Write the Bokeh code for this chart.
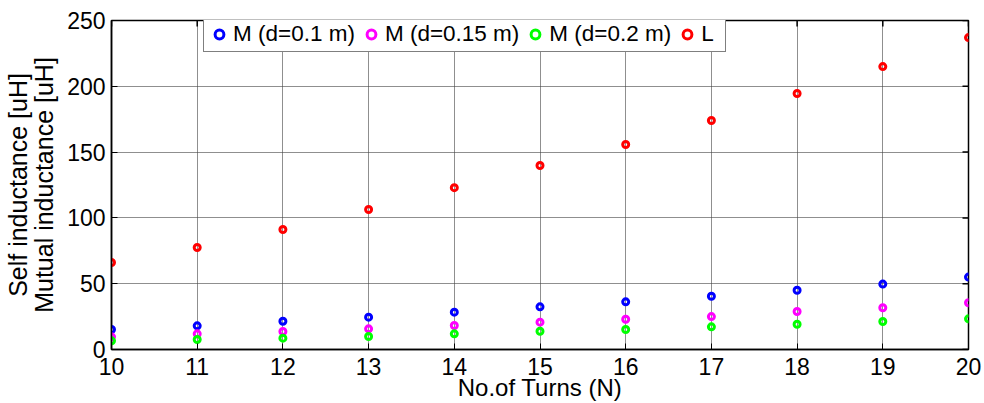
import math
from bokeh.plotting import figure
from bokeh.models import FixedTicker, Range1d, Legend, LegendItem
from bokeh.embed import file_html
from bokeh.resources import INLINE

# Number of turns
turns = [10, 11, 12, 13, 14, 15, 16, 17, 18, 19, 20]
# Mutual inductance [uH] for three coil separations
m_d010 = [15.2, 18.0, 21.5, 24.6, 28.4, 32.4, 36.2, 40.5, 45.0, 49.7, 55.0]
m_d015 = [9.6, 11.9, 13.7, 15.7, 18.2, 20.8, 23.0, 25.0, 28.9, 31.7, 35.5]
m_d020 = [6.6, 7.6, 8.6, 9.9, 11.9, 13.9, 15.2, 17.2, 19.2, 21.3, 23.3]
# Self inductance [uH]
self_l = [66.1, 77.5, 91.2, 106.4, 123.0, 139.8, 155.8, 174.0, 194.5, 215.0, 237.0]

x_ticks = [10, 11, 12, 13, 14, 15, 16, 17, 18, 19, 20]
y_ticks = [0, 50, 100, 150, 200, 250]

FONT = "Liberation Sans"
X_MIN, X_MAX, Y_MIN, Y_MAX = 10, 20, 0, 250

p = figure(width=984, height=403, output_backend="svg", toolbar_location=None,
           x_range=Range1d(X_MIN, X_MAX), y_range=Range1d(Y_MIN, Y_MAX),
           min_border_left=110, min_border_right=16,
           min_border_top=20, min_border_bottom=54,
           x_axis_label="No.of Turns (N)",
           y_axis_label="Self inductance [uH]\nMutual inductance [uH]")
p.background_fill_color = "white"
p.border_fill_color = "white"
p.outline_line_color = "black"
p.outline_line_width = 1.5

for ax, ticks in ((p.xaxis[0], x_ticks), (p.yaxis[0], y_ticks)):
    ax.ticker = FixedTicker(ticks=ticks)
    ax.major_tick_in = 6
    ax.major_tick_out = 0
    ax.minor_tick_in = 0
    ax.minor_tick_out = 0
    ax.axis_line_color = "black"
    ax.axis_line_width = 1.5
    ax.major_tick_line_color = "black"
    ax.major_label_text_font = FONT
    ax.major_label_text_font_size = "23px"
    ax.major_label_text_color = "black"
    ax.axis_label_text_font = FONT
    ax.axis_label_text_font_style = "normal"
    ax.axis_label_text_color = "black"

p.xaxis.major_label_standoff = 8
p.xaxis.axis_label_text_font_size = "24px"
p.xaxis.axis_label_text_line_height = 0.8
p.xaxis.axis_label_standoff = -4
p.yaxis.major_label_standoff = 6
p.yaxis.axis_label_text_font_size = "25px"
p.yaxis.axis_label_text_line_height = 0.95
p.yaxis.axis_label_standoff = 6

p.xgrid.ticker = FixedTicker(ticks=x_ticks)
p.ygrid.ticker = FixedTicker(ticks=y_ticks)
p.grid.grid_line_color = "#444444"
p.grid.grid_line_alpha = 0.6
p.grid.grid_line_width = 1

# Inward ticks along the top and right edges of the box
p.ray(x=x_ticks, y=[Y_MAX] * len(x_ticks), length=6, length_units="screen",
      angle=-math.pi / 2, line_color="black", line_width=1.5)
p.ray(x=[X_MAX] * len(y_ticks), y=y_ticks, length=6, length_units="screen",
      angle=math.pi, line_color="black", line_width=1.5)

series = [
    ("M (d=0.1 m)", m_d010, "#0000ff"),
    ("M (d=0.15 m)", m_d015, "#ff00ff"),
    ("M (d=0.2 m)", m_d020, "#00ff00"),
    ("L", self_l, "#ff0000"),
]

items = []
for label, vals, color in series:
    r = p.scatter(turns, vals, marker="circle", size=6, line_color=color,
                  line_width=3, fill_color=None)
    items.append(LegendItem(label=label, renderers=[r]))

legend = Legend(items=items, orientation="horizontal", location=(92, 297),
                label_text_font=FONT, label_text_font_size="22.5px",
                label_text_color="black", label_standoff=3, spacing=5,
                glyph_width=22, glyph_height=22, padding=4, margin=0,
                border_line_color="black", border_line_width=1.5,
                background_fill_color="white", background_fill_alpha=1.0)
p.add_layout(legend, "center")

open("out.html", "w").write(file_html(p, INLINE))
